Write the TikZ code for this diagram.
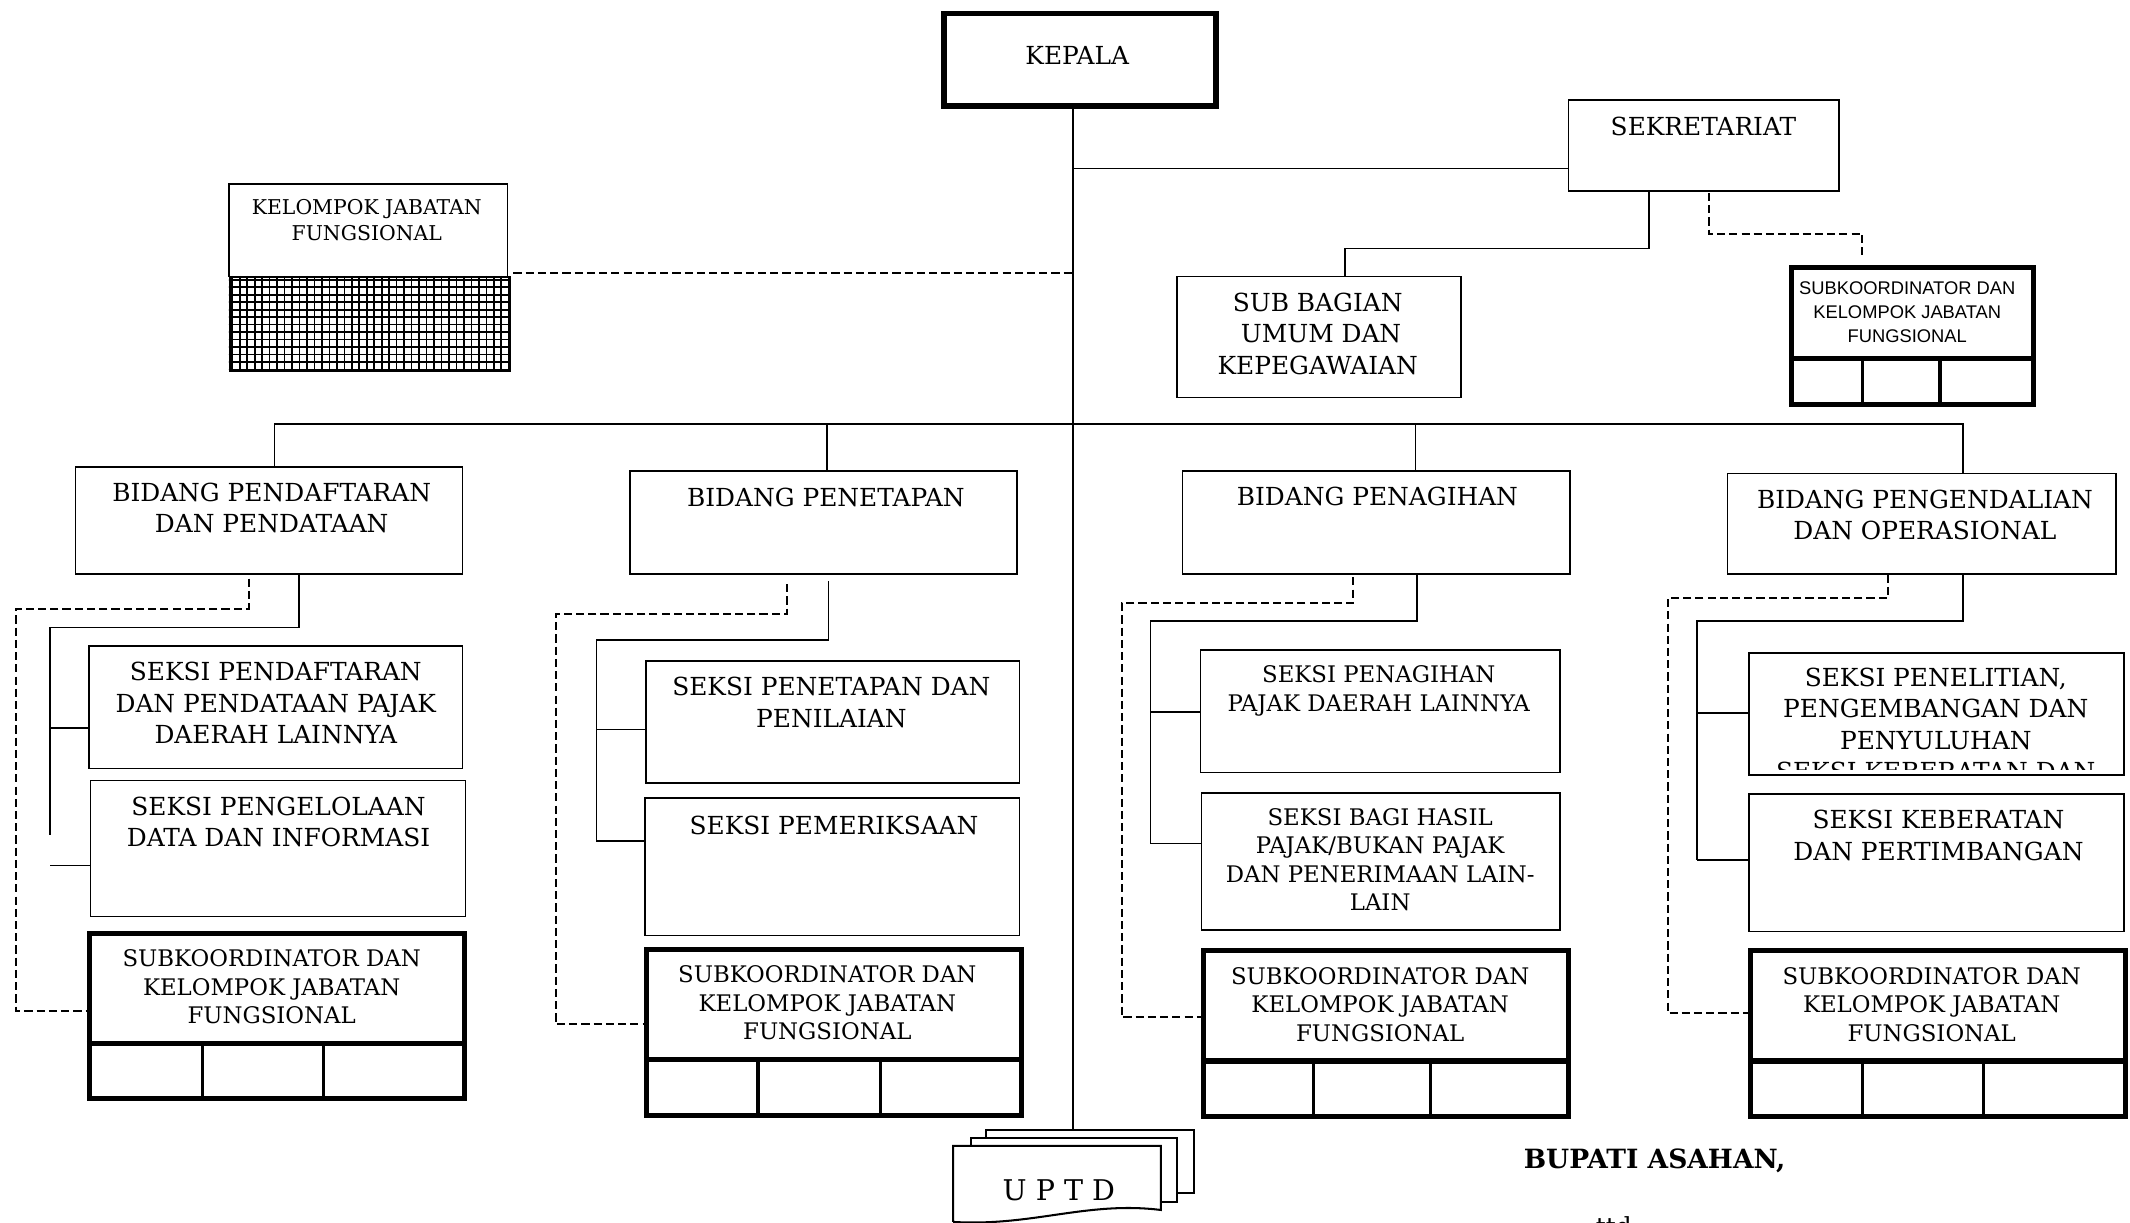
\documentclass[tikz,border=0pt]{standalone}
\usepackage{fontspec}
\setmainfont{DejaVu Serif}
\newfontfamily\arialfont{Liberation Sans}
\usetikzlibrary{positioning}
\tikzset{
    unit/.style={draw, line width=1.2pt, anchor=north west, inner sep=0pt},
    headbox/.style={unit, line width=4pt},
    subkobox/.style={unit, line width=3.8pt},
    link/.style={line width=1.2pt},
    dashlink/.style={line width=1.5pt, dash pattern=on 6pt off 3pt},
    cellline/.style={line width=2.5pt},
    lbl/.style={align=center, inner sep=0pt, anchor=north, font=\fontsize{18.3}{23.2}\selectfont},
    smalllbl/.style={lbl, font=\fontsize{16.8}{21}\selectfont},
}

\begin{document}
\begin{tikzpicture}[x=1pt,y=-1pt]
\fill[white] (0,0) rectangle (1568,900);
\useasboundingbox (0,0) rectangle (1568,900);

% kepala, sekretariat
\coordinate (uptdtop) at (790,834);
\node[headbox, minimum width=200pt, minimum height=68pt] (kepala) at (693,8) {};
\node[lbl] (kepalat) at (793,34.3) {KEPALA};
\node[unit, minimum width=199pt, minimum height=67pt] (sekre) at (1154,73) {};
\node[lbl] (sekret) at (1254,86.3) {SEKRETARIAT};
\node[unit, minimum width=209pt, minimum height=89pt] (subbag) at (866,203) {};
\node[lbl] (subbagt) at (970,215.3) {SUB BAGIAN\\\hspace*{5pt}UMUM DAN\\KEPEGAWAIAN};
\node[subkobox, minimum width=178pt, minimum height=101pt] (skS) at (1317,195) {};
\node[lbl, font=\arialfont\fontsize{13.5}{17.5}\selectfont] (skSt) at (1404,207.2) {SUBKOORDINATOR DAN\\KELOMPOK JABATAN\\FUNGSIONAL};
\draw[line width=3.8pt] (skS.west |- 0,264) -- (skS.east |- 0,264);
\draw[cellline] (1371,264) -- (skS.south -| 1371,0) (1428,264) -- (skS.south -| 1428,0);

\draw[link] (kepala.south -| uptdtop) -- (uptdtop);
\draw[link] (uptdtop |- 0,124) -- (sekre.west |- 0,124);
\draw[link] (sekre.south -| 1214,0) |- (990,183) -- (subbag.north -| 990,0);
\draw[dashlink] (1258,142) |- (1371,172) -- (1371,188);

% kelompok jabatan fungsional
\node[unit, minimum width=205pt, minimum height=68pt] (kjf) at (168,135) {};
\node[lbl, font=\fontsize{15}{19}\selectfont] (kjft) at (270,146.5) {KELOMPOK JABATAN\\FUNGSIONAL};
\node[unit, line width=1.6pt, minimum width=206pt, minimum height=69pt] (kjfgrid) at (168.5,203) {};
\begin{scope}
  \clip (kjfgrid.north west) rectangle (kjfgrid.south east);
  \foreach \gx in {171,176.5,...,375} \draw[line width=1.2pt] (\gx,203) -- (\gx,272);
  \foreach \gy in {206,211.5,...,272} \draw[line width=1.2pt] (168,\gy) -- (375,\gy);
\end{scope}
\draw[dashlink] (378,201) -- (uptdtop |- 0,201);

% bidang
\node[unit, minimum width=285pt, minimum height=79pt] (bidA) at (55,343) {};
\node[unit, minimum width=285pt, minimum height=76pt] (bidB) at (463,346) {};
\node[unit, minimum width=285pt, minimum height=76pt] (bidC) at (870,346) {};
\node[unit, minimum width=286pt, minimum height=74pt] (bidD) at (1271,348) {};
\node[lbl] (bidAt) at (200,355.3) {BIDANG PENDAFTARAN\\DAN PENDATAAN};
\node[lbl] (bidBt) at (608,359.3) {BIDANG PENETAPAN};
\node[lbl] (bidCt) at (1014,358.3) {BIDANG PENAGIHAN};
\node[lbl] (bidDt) at (1417,360.3) {BIDANG PENGENDALIAN\\DAN OPERASIONAL};
\draw[link] (bidA.north -| 202,0) |- (1445,312) -- (bidD.north -| 1445,0);
\draw[link] (609,312) -- (bidB.north -| 609,0);
\draw[link] (1042,312) -- (bidC.north -| 1042,0);

% kolom pendaftaran
\node[unit, minimum width=275pt, minimum height=90pt] (sA1) at (65,475) {};
\node[unit, minimum width=276pt, minimum height=100pt] (sA2) at (66,574) {};
\node[subkobox, minimum width=276pt, minimum height=122pt] (skA) at (64,685) {};
\node[lbl] (sA1t) at (203,487.3) {SEKSI PENDAFTARAN\\DAN PENDATAAN PAJAK\\DAERAH LAINNYA};
\node[lbl] (sA2t) at (205,586.3) {SEKSI PENGELOLAAN\\DATA DAN INFORMASI};
\node[smalllbl] (skAt) at (200,698.9) {SUBKOORDINATOR DAN\\KELOMPOK JABATAN\\FUNGSIONAL};
\draw[line width=3.8pt] (skA.west |- 0,768) -- (skA.east |- 0,768);
\draw[cellline] (149,768) -- (skA.south -| 149,0) (238,768) -- (skA.south -| 238,0);
\draw[link] (bidA.south -| 220,0) |- (37,462) -- (37,615);
\draw[link] (37,536) -- (sA1.west |- 0,536);
\draw[link] (37,637) -- (sA2.west |- 0,637);
\draw[dashlink] (183,426) |- (12,448) |- (skA.west |- 0,744);

% kolom penetapan
\node[unit, minimum width=275pt, minimum height=90pt] (sB1) at (475,486) {};
\node[unit, minimum width=276pt, minimum height=101pt] (sB2) at (474,587) {};
\node[subkobox, minimum width=276pt, minimum height=122pt] (skB) at (474,697) {};
\node[lbl] (sB1t) at (612,498.3) {SEKSI PENETAPAN DAN\\PENILAIAN};
\node[lbl] (sB2t) at (614,600.3) {SEKSI PEMERIKSAAN};
\node[smalllbl] (skBt) at (609,710.9) {SUBKOORDINATOR DAN\\KELOMPOK JABATAN\\FUNGSIONAL};
\draw[line width=3.8pt] (skB.west |- 0,780) -- (skB.east |- 0,780);
\draw[cellline] (558,780) -- (skB.south -| 558,0) (648,780) -- (skB.south -| 648,0);
\draw[link] (610,428) |- (439,471) -- (439,619);
\draw[link] (439,537) -- (sB1.west |- 0,537);
\draw[link] (439,619) -- (sB2.west |- 0,619);
\draw[dashlink] (579,430) |- (409,452) |- (skB.west |- 0,754);

% kolom penagihan
\node[unit, minimum width=265pt, minimum height=90pt] (sC1) at (883,478) {};
\node[unit, minimum width=264pt, minimum height=101pt] (sC2) at (884,583) {};
\node[subkobox, minimum width=269pt, minimum height=122pt] (skC) at (884,698) {};
\node[smalllbl] (sC1t) at (1015,489.9) {SEKSI PENAGIHAN\\PAJAK DAERAH LAINNYA};
\node[smalllbl] (sC2t) at (1016,594.9) {SEKSI BAGI HASIL\\PAJAK/BUKAN PAJAK\\DAN PENERIMAAN LAIN-\\LAIN};
\node[smalllbl] (skCt) at (1016,711.9) {SUBKOORDINATOR DAN\\KELOMPOK JABATAN\\FUNGSIONAL};
\draw[line width=3.8pt] (skC.west |- 0,781) -- (skC.east |- 0,781);
\draw[cellline] (967,781) -- (skC.south -| 967,0) (1053,781) -- (skC.south -| 1053,0);
\draw[link] (bidC.south -| 1043,0) |- (847,457) -- (847,621);
\draw[link] (847,524) -- (sC1.west |- 0,524);
\draw[link] (847,621) -- (sC2.west |- 0,621);
\draw[dashlink] (996,425) |- (826,444) |- (skC.west |- 0,749);

% kolom pengendalian
\node[unit, minimum width=276pt, minimum height=90pt] (sD1) at (1287,480) {};
\node[unit, minimum width=276pt, minimum height=101pt] (sD2) at (1287,584) {};
\node[subkobox, minimum width=276pt, minimum height=122pt] (skD) at (1287,698) {};
\begin{scope}
  \clip (sD1.north west) rectangle ([yshift=5pt]sD1.south east);
  \node[lbl] (sD1t) at (1425,491.3) {SEKSI PENELITIAN,\\PENGEMBANGAN DAN\\PENYULUHAN\\SEKSI KEBERATAN DAN};
\end{scope}
\node[lbl] (sD2t) at (1427,596.3) {SEKSI KEBERATAN\\DAN PERTIMBANGAN};
\node[smalllbl] (skDt) at (1422,711.9) {SUBKOORDINATOR DAN\\KELOMPOK JABATAN\\FUNGSIONAL};
\draw[line width=3.8pt] (skD.west |- 0,781) -- (skD.east |- 0,781);
\draw[cellline] (1371,781) -- (skD.south -| 1371,0) (1460,781) -- (skD.south -| 1460,0);
\draw[link] (bidD.south -| 1445,0) |- (1249,457) -- (1249,633);
\draw[link] (1249,525) -- (sD1.west |- 0,525);
\draw[link] (1249,633) -- (sD2.west |- 0,633);
\draw[dashlink] (1390,423) |- (1228,440) |- (skD.west |- 0,746);

% uptd
\filldraw[fill=white, line width=1.5pt] (726,832) rectangle (879,878);
\filldraw[fill=white, line width=1.5pt] (714.5,838) rectangle (866.5,885);
\filldraw[fill=white, line width=1.5pt] (701.7,899.5) -- (701.7,843.6) -- (854.5,843.6) -- (854.5,890.7)
    .. controls (800,884) and (760,903) .. (701.7,899.5);
\node[inner sep=0pt, font=\fontsize{21}{21}\selectfont] (uptd) at (779.5,876) {U P T D};

\node[inner sep=0pt, anchor=base, font=\bfseries\fontsize{19.5}{19.5}\selectfont] (bupati) at (1218,860) {BUPATI ASAHAN,};
\node[lbl, anchor=base] (ttd) at (1188,909.4) {ttd};
\end{tikzpicture}
\end{document}
